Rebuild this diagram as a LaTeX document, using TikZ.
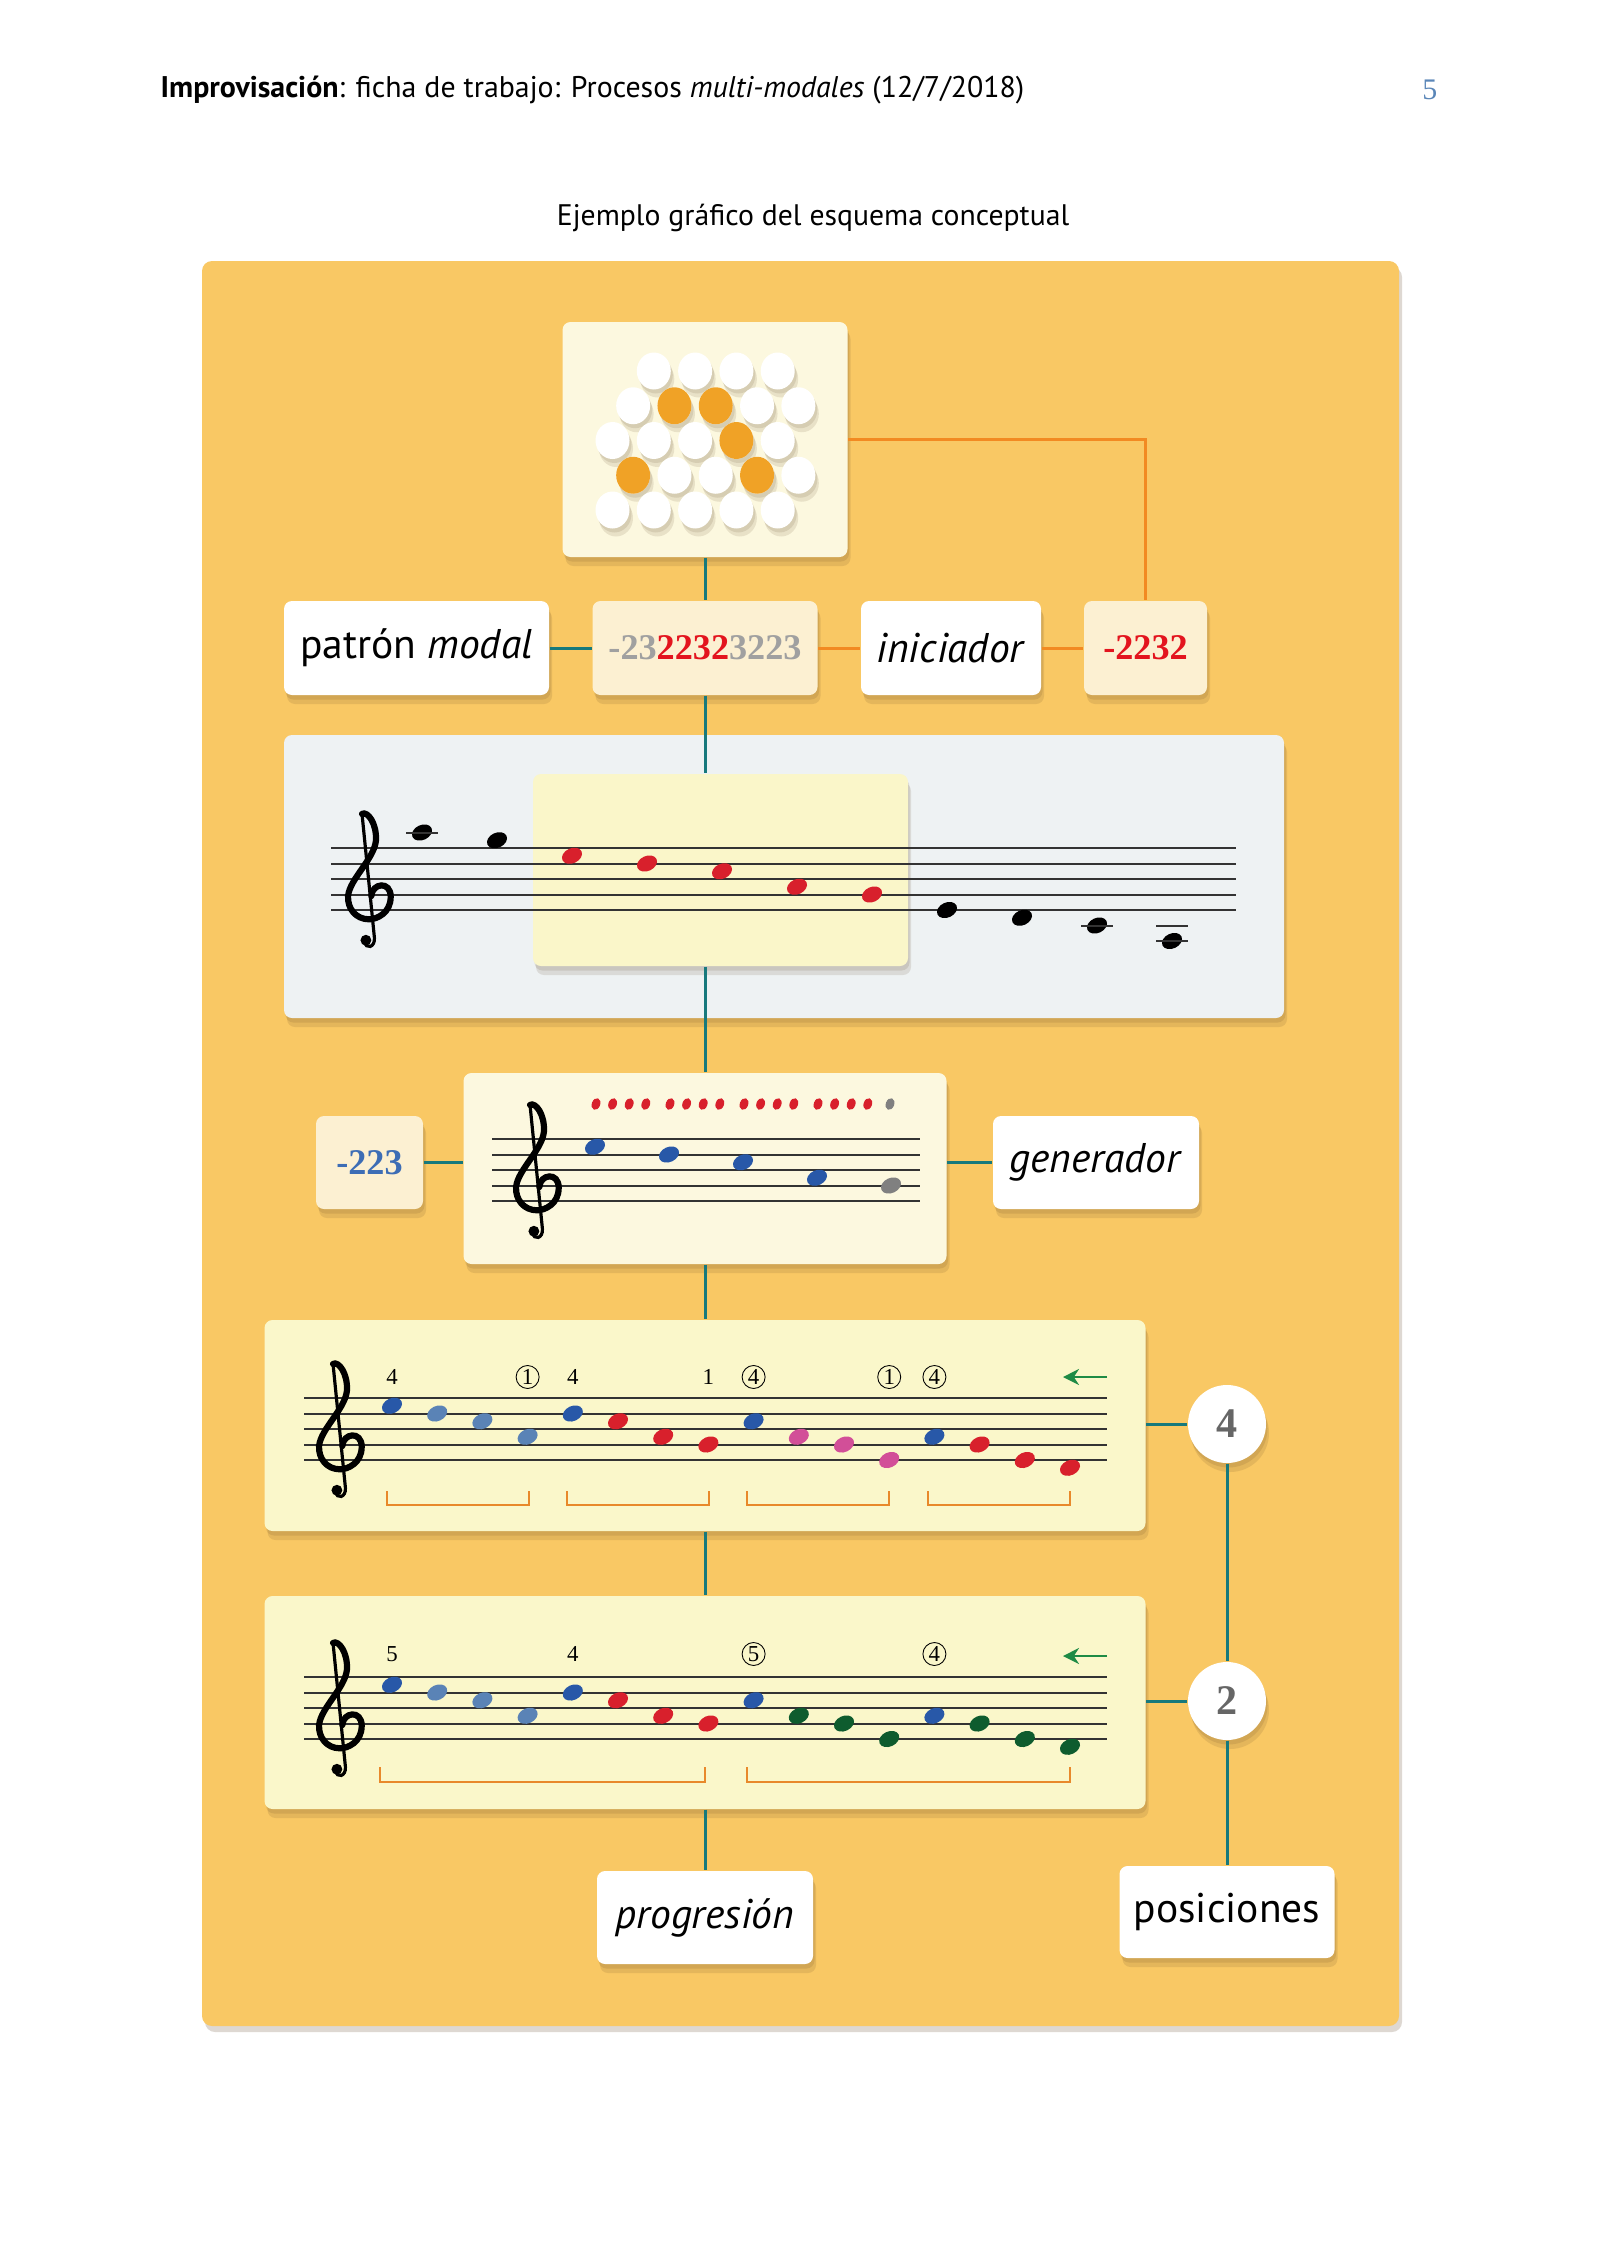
\documentclass[tikz,border=0pt]{standalone}
\usepackage{fontspec}
\setmainfont{Liberation Serif}
\setsansfont{PT Sans}
\usetikzlibrary{shadows}
\usetikzlibrary{arrows.meta}

\definecolor{fondo}{HTML}{F9C864}
\definecolor{crema}{HTML}{FCF0D2}
\definecolor{marfil}{HTML}{FCF8DF}
\definecolor{gris}{HTML}{EEF2F3}
\definecolor{resalte}{HTML}{FAF6C9}
\definecolor{amarillo}{HTML}{FAF7CA}
\definecolor{clavija}{HTML}{F0A226}
\definecolor{azulverde}{HTML}{17797C}
\definecolor{naranjalin}{HTML}{F28A22}
\definecolor{naranjacor}{HTML}{E8892B}
\definecolor{rojo}{HTML}{E3141E}
\definecolor{rojonota}{HTML}{D8202C}
\definecolor{grisnum}{HTML}{A0A0A0}
\definecolor{azul}{HTML}{2858A8}
\definecolor{celeste}{HTML}{5A83B6}
\definecolor{azulnum}{HTML}{3D6DB5}
\definecolor{rosa}{HTML}{D24F98}
\definecolor{verde}{HTML}{0E5C2E}
\definecolor{verdeflecha}{HTML}{1E8B45}
\definecolor{pagina}{HTML}{5A86B8}
\definecolor{sombrac}{HTML}{5A4020}

\tikzset{
  sombra/.style={drop shadow={opacity=0.13, fill=sombrac, shadow xshift=0.15mm, shadow yshift=-0.45mm},
    drop shadow={opacity=0.13, fill=sombrac, shadow xshift=0.3mm, shadow yshift=-0.9mm}},
  caja/.style={rounded corners=0.8mm, inner sep=0pt, minimum height=9.4mm, sombra},
  etiqueta/.style={caja, fill=white, font=\sffamily\fontsize{11.8}{14}\selectfont},
  cifra/.style={caja, fill=crema, font=\bfseries\fontsize{10.3}{12}\selectfont},
  panel/.style={rounded corners=0.8mm, inner sep=0pt, sombra},
  lineaverde/.style={draw=azulverde, line width=0.3mm},
  linean/.style={draw=naranjalin, line width=0.3mm},
  pauta/.style={draw=black!80, line width=0.2mm},
  corchete/.style={draw=naranjacor, line width=0.15mm},
  flecha/.style={draw=verdeflecha, line width=0.25mm, -{Stealth[length=1.6mm,width=1.6mm]}},
  dedo/.style={inner sep=0pt, font=\fontsize{6.5}{7}\selectfont},
  circulado/.style={dedo, circle, draw, line width=0.25pt, inner sep=0.3pt, minimum size=2.3mm},
  clavesol/.pic={
    \begin{scope}[x=1.55mm, y=1.55mm]
    \draw[line width=0.62mm, line cap=round] (0.15,-0.1) .. controls (0.2,0.75) and (1.4,0.9) .. (1.4,-0.15)
      .. controls (1.4,-1.2) and (0.5,-1.6) .. (0,-1.6)
      .. controls (-0.85,-1.6) and (-1.4,-0.9) .. (-1.35,-0.1)
      .. controls (-1.25,1.0) and (0.35,2.3) .. (0.45,3.5)
      .. controls (0.5,4.6) and (-0.1,5.4) .. (-0.45,5.2);
    \draw[line width=0.32mm] (-0.45,5.2) -- (0.35,-2.8) .. controls (0.4,-3.4) and (-0.2,-3.6) .. (-0.3,-3.0);
    \fill (-0.2,-2.95) circle (0.35);
    \end{scope}
  }
}

\begin{document}
\begin{tikzpicture}[x=0.1mm, y=-0.1mm]
\useasboundingbox (0,0) rectangle (1600,2264);
\fill[white] (0,0) rectangle (1600,2264);

% cabecera
\node[anchor=west, inner sep=0pt, font=\sffamily\fontsize{8.5}{10}\selectfont] (cab) at (160,90)
  {\textbf{Improvisación}: ficha de trabajo: Procesos \textit{multi-modales} (12/7/2018)};
\node[anchor=east, inner sep=0pt, text=pagina, font=\fontsize{8.5}{10}\selectfont] (pag) at (1438,90) {5};
\node[font=\sffamily\fontsize{8.45}{10}\selectfont] (tit) at (813,218) {Ejemplo gráfico del esquema conceptual};

\fill[fondo, rounded corners=1mm, drop shadow={opacity=0.2, fill=sombrac, shadow xshift=0.3mm, shadow yshift=-0.6mm}] (202,261) rectangle (1399,2026);

% clavijas
\node[panel, fill=marfil, minimum width=28.5mm, minimum height=23.5mm] (pegs) at (705,439.5) {};
\foreach \r/\o/\ks in {0/0/{1,...,4}, 1/20.65/{0,...,4}, 2/0/{0,...,4}, 3/20.65/{0,...,4}, 4/0/{0,...,4}}
  \foreach \k in \ks
    \fill[white, drop shadow={opacity=0.12, fill=sombrac, shadow xshift=0.2mm, shadow yshift=-0.4mm},
      drop shadow={opacity=0.12, fill=sombrac, shadow xshift=0.35mm, shadow yshift=-0.8mm}] ({612.5+\o+41.3*\k},{371+34.75*\r}) ellipse (17 and 18.5);
\foreach \k/\r/\o in {1/1/20.65, 2/1/20.65, 3/2/0, 0/3/20.65, 3/3/20.65}
  \fill[clavija] ({612.5+\o+41.3*\k},{371+34.75*\r}) ellipse (17 and 18.5);

% fila de etiquetas
\node[etiqueta, minimum width=26.5mm] (patron) at (416.5,648) {patrón \textit{modal}};
\node[cifra, minimum width=22.5mm] (modalnum) at (705,648)
  {\textcolor{grisnum}{-23}\textcolor{rojo}{2232}\textcolor{grisnum}{3223}};
\node[etiqueta, minimum width=18mm] (inic) at (951,648) {\textit{iniciador}};
\node[cifra, minimum width=12.3mm, text=rojo] (inicnum) at (1145.5,648) {-2232};

% escala completa
\node[panel, fill=gris, minimum width=100mm, minimum height=28.3mm] (escala) at (784,876.5) {};
\node[panel, fill=resalte, minimum width=37.5mm, minimum height=19.2mm] (hilite) at (720.5,870) {};
\foreach \k in {0,...,4}
  \draw[pauta] (331,{848+15.5*\k}) -- (1236,{848+15.5*\k});
\pic at (369,894.5) {clavesol};
\foreach \i/\p/\c in {0/-2/black, 1/-1/black, 2/1/rojonota, 3/2/rojonota, 4/3/rojonota, 5/5/rojonota, 6/6/rojonota, 7/8/black, 8/9/black, 9/10/black, 10/12/black}
  \fill[\c, rotate around={25:({422+75*\i},{848+7.75*\p})}] ({422+75*\i},{848+7.75*\p}) ellipse (10.5 and 7.5);
\draw[pauta] (406,832.5) -- (438,832.5);
\draw[pauta] (1081,925.5) -- (1113,925.5);
\draw[pauta] (1156,925.5) -- (1188,925.5);
\draw[pauta] (1156,941) -- (1188,941);

% generador
\node[panel, fill=marfil, minimum width=48.3mm, minimum height=19.1mm] (genbox) at (705,1168.5) {};
\node[cifra, minimum width=10.7mm, minimum height=9.3mm, text=azulnum] (gennum) at (369.5,1162.5) {-223};
\node[etiqueta, minimum width=20.6mm, minimum height=9.3mm] (gen) at (1096,1162.5) {\textit{generador}};
\foreach \k in {0,...,4}
  \draw[pauta] (492,{1139+15.5*\k}) -- (920,{1139+15.5*\k});
\pic at (537,1185.5) {clavesol};
\foreach \i/\p/\c in {0/1/azul, 1/2/azul, 2/3/azul, 3/5/azul, 4/6/gray}
  \fill[\c, rotate around={25:({595+74*\i},{1139+7.75*\p})}] ({595+74*\i},{1139+7.75*\p}) ellipse (10.5 and 7.5);
\foreach \g in {0,...,3}
  \foreach \k in {0,...,3}
    \fill[rojonota, rotate around={-20:({596+74*\g+16.6*\k},1104)}] ({596+74*\g+16.6*\k},1104) ellipse (4.2 and 6);
\fill[gray, rotate around={-20:(890,1104)}] (890,1104) ellipse (4.2 and 6);

% progresiones
\node[panel, fill=amarillo, minimum width=88.1mm, minimum height=21.1mm] (prog1) at (705,1425.5) {};
\node[panel, fill=amarillo, minimum width=88.1mm, minimum height=21.3mm] (prog2) at (705,1702.5) {};
\foreach \k in {0,...,4} {
  \draw[pauta] (304,{1398+15.5*\k}) -- (1107,{1398+15.5*\k});
  \draw[pauta] (304,{1677+15.5*\k}) -- (1107,{1677+15.5*\k});
}
\pic at (340,1444.5) {clavesol};
\pic at (340,1723.5) {clavesol};
\foreach \i/\p/\ca/\cb in {0/1/azul/azul, 1/2/celeste/celeste, 2/3/celeste/celeste, 3/5/celeste/celeste,
    4/2/azul/azul, 5/3/rojonota/rojonota, 6/5/rojonota/rojonota, 7/6/rojonota/rojonota,
    8/3/azul/azul, 9/5/rosa/verde, 10/6/rosa/verde, 11/8/rosa/verde,
    12/5/azul/azul, 13/6/rojonota/verde, 14/8/rojonota/verde, 15/9/rojonota/verde} {
  \fill[\ca, rotate around={25:({392+45.2*\i},{1398+7.75*\p})}] ({392+45.2*\i},{1398+7.75*\p}) ellipse (10.5 and 7.5);
  \fill[\cb, rotate around={25:({392+45.2*\i},{1677+7.75*\p})}] ({392+45.2*\i},{1677+7.75*\p}) ellipse (10.5 and 7.5);
}
\node[dedo] (d1) at (392,1377) {4};
\node[circulado] (d2) at (527.6,1377) {1};
\node[dedo] (d3) at (572.8,1377) {4};
\node[dedo] (d4) at (708.4,1377) {1};
\node[circulado] (d5) at (753.6,1377) {4};
\node[circulado] (d6) at (889.2,1377) {1};
\node[circulado] (d7) at (934.4,1377) {4};
\node[dedo] (e1) at (392,1654) {5};
\node[dedo] (e2) at (572.8,1654) {4};
\node[circulado] (e3) at (753.6,1654) {5};
\node[circulado] (e4) at (934.4,1654) {4};
\coordinate (fa1) at (1107,1377);
\coordinate (fa2) at (1107,1656);
\draw[flecha] (fa1) -- ++(-44,0);
\draw[flecha] (fa2) -- ++(-44,0);
\foreach \a/\b in {387/529, 567/709, 747/889, 928/1070}
  \draw[corchete] (\a,1491) -- (\a,1505) -- (\b,1505) -- (\b,1491);
\foreach \a/\b in {380/705, 747/1070}
  \draw[corchete] (\a,1767) -- (\a,1782) -- (\b,1782) -- (\b,1767);

\node[circle, fill=white, minimum size=7.8mm, inner sep=0pt, sombra, text=black!60, font=\bfseries\fontsize{12}{14}\selectfont] (c4) at (1227,1424) {4};
\node[circle, fill=white, minimum size=7.8mm, inner sep=0pt, sombra, text=black!60, font=\bfseries\fontsize{12}{14}\selectfont] (c2) at (1227,1701) {2};
\node[etiqueta, minimum width=21.6mm, minimum height=9.3mm] (progresion) at (705,1917.5) {\textit{progresión}};
\node[etiqueta, minimum width=21.5mm, minimum height=9.2mm] (posiciones) at (1227,1912) {posiciones};

% conexiones
\draw[lineaverde] (pegs) -- (modalnum);
\draw[lineaverde] (patron) -- (modalnum);
\draw[linean] (modalnum) -- (inic);
\draw[linean] (inic) -- (inicnum);
\draw[linean] (pegs.east) -| (inicnum.north);
\draw[lineaverde] (modalnum.south) -- (modalnum.south |- hilite.north);
\draw[lineaverde] (genbox.north |- hilite.south) -- (genbox.north);
\draw[lineaverde] (gennum.east) -- (gennum.east -| genbox.west);
\draw[lineaverde] (genbox.east |- gen.west) -- (gen.west);
\draw[lineaverde] (genbox) -- (prog1);
\draw[lineaverde] (prog1) -- (prog2);
\draw[lineaverde] (prog2) -- (progresion);
\draw[lineaverde] (prog1.east |- c4) -- (c4);
\draw[lineaverde] (prog2.east |- c2) -- (c2);
\draw[lineaverde] (c4) -- (c2);
\draw[lineaverde] (c2) -- (posiciones);
\end{tikzpicture}
\end{document}
